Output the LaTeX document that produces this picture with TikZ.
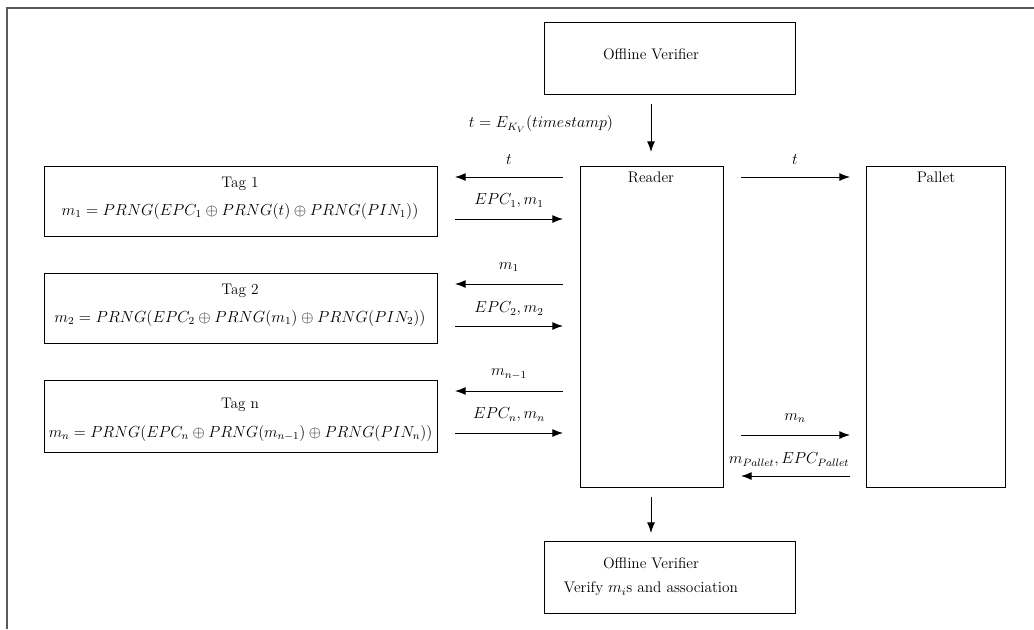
\documentclass[tikz,border=0pt]{standalone}
\usetikzlibrary{arrows.meta,fit}
\begin{document}
\begin{tikzpicture}[x=0.75pt,y=-0.75pt,
 font=\fontsize{11.5}{14}\selectfont,
 box/.style={draw,line width=0.7pt,inner sep=0pt},
 lbl/.style={inner sep=0pt},
 arr/.style={-{Latex[length=8pt,width=6pt]},line width=0.7pt}]
\useasboundingbox (0,0) rectangle (1034,629);
\draw[line width=1.2pt,black!65] (7,629) -- (7,8) -- (1034,8);
% boxes
\node[box,fit={(544,22)(795,94)}] (ov1) {};
\node[lbl] (ov1t) at (651,54) {Offline Verifier};
\node[box,fit={(580,166)(723,487)}] (reader) {};
\node[lbl] (readert) at (651,177) {Reader};
\node[box,fit={(866,166)(1005,487)}] (pallet) {};
\node[lbl] (pallett) at (936,177) {Pallet};
\node[box,fit={(44,166)(437,236)}] (tag1) {};
\node[lbl] (tag1t) at (240,184) {Tag 1};
\node[lbl] (tag1f) at (240,211) {$m_1 = PRNG(EPC_1 \oplus PRNG(t) \oplus PRNG(PIN_1))$};
\node[box,fit={(44,273)(437,343)}] (tag2) {};
\node[lbl] (tag2t) at (240,291) {Tag 2};
\node[lbl] (tag2f) at (240,318) {$m_2 = PRNG(EPC_2 \oplus PRNG(m_1) \oplus PRNG(PIN_2))$};
\node[box,fit={(44,380)(437,452)}] (tagn) {};
\node[lbl] (tagnt) at (240,405) {Tag n};
\node[lbl,xscale=0.982,transform shape] (tagnf) at (240.5,433) {$m_n = PRNG(EPC_n \oplus PRNG(m_{n-1}) \oplus PRNG(PIN_n))$};
\node[box,fit={(544,541)(795,613)}] (ov2) {};
\node[lbl] (ov2t) at (651,563) {Offline Verifier};
\node[lbl] (ov2v) at (651,589) {Verify $m_i$s and association};
% connector end points
\coordinate (v1) at (651,104); \coordinate (v2) at (651,152);
\coordinate (v3) at (651,497); \coordinate (v4) at (651,533);
\coordinate (L1) at (455,177); \coordinate (R1) at (563,177);
\coordinate (L2) at (455,219); \coordinate (R2) at (563,219);
\coordinate (L3) at (455,284); \coordinate (R3) at (563,284);
\coordinate (L4) at (455,326); \coordinate (R4) at (563,326);
\coordinate (L5) at (455,391); \coordinate (R5) at (563,391);
\coordinate (L6) at (455,433); \coordinate (R6) at (563,433);
\coordinate (P1) at (741,177); \coordinate (Q1) at (850,177);
\coordinate (P2) at (741,435); \coordinate (Q2) at (850,435);
\coordinate (P3) at (741,476); \coordinate (Q3) at (850,476);
% arrows
\draw[arr] (v1) -- (v2);
\node[lbl] (lt) at (541,124) {$t = E_{K_V}(timestamp)$};
\draw[arr] (R1) -- (L1); \node[lbl] (l1) at (509,160) {$t$};
\draw[arr] (L2) -- (R2); \node[lbl] (l2) at (509,201) {$EPC_1, m_1$};
\draw[arr] (R3) -- (L3); \node[lbl] (l3) at (509,267) {$m_1$};
\draw[arr] (L4) -- (R4); \node[lbl] (l4) at (509,309) {$EPC_2, m_2$};
\draw[arr] (R5) -- (L5); \node[lbl] (l5) at (509,374) {$m_{n-1}$};
\draw[arr] (L6) -- (R6); \node[lbl] (l6) at (509,415) {$EPC_n, m_n$};
\draw[arr] (P1) -- (Q1); \node[lbl] (p1) at (795,160) {$t$};
\draw[arr] (P2) -- (Q2); \node[lbl] (p2) at (795,418) {$m_n$};
\draw[arr] (Q3) -- (P3); \node[lbl] (p3) at (789,460) {$m_{Pallet}, EPC_{Pallet}$};
\draw[arr] (v3) -- (v4);
\end{tikzpicture}
\end{document}
